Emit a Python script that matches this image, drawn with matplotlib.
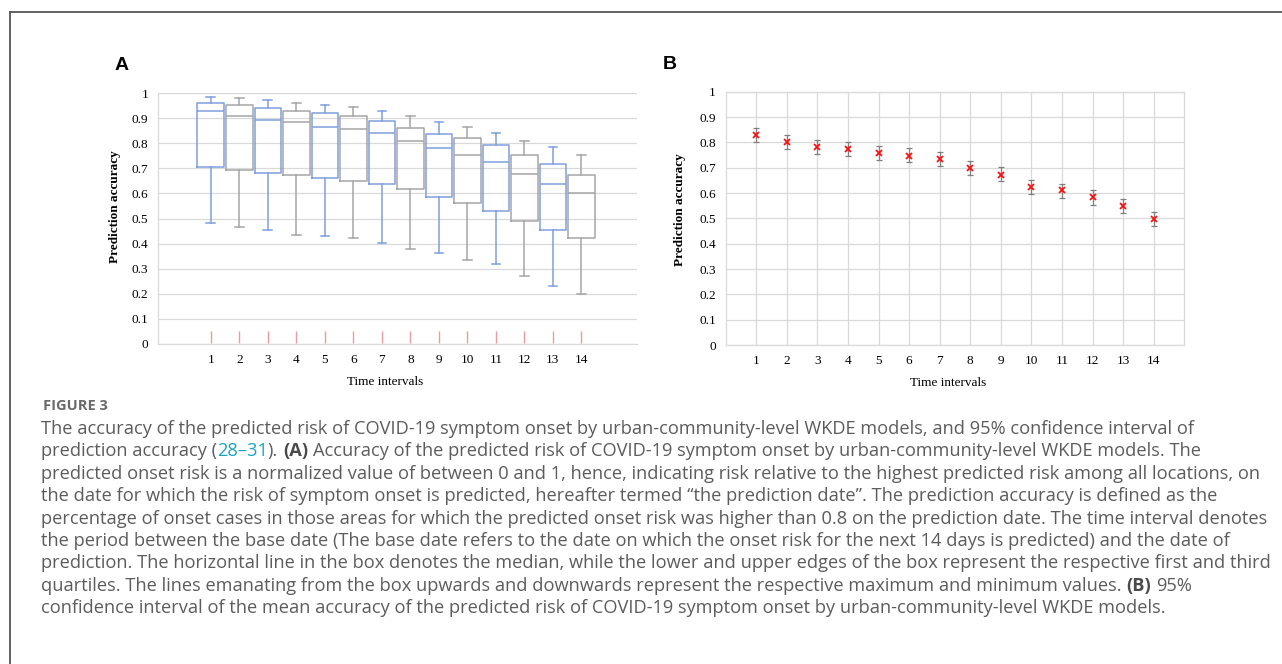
import matplotlib
matplotlib.use("Agg")
import matplotlib.pyplot as plt
from matplotlib.lines import Line2D

# ---- data ----
intervals = list(range(1, 15))
box_max = [0.984, 0.979, 0.971, 0.962, 0.954, 0.943, 0.928, 0.909, 0.886, 0.864, 0.841, 0.808, 0.785, 0.751]
box_q3  = [0.959, 0.954, 0.939, 0.928, 0.919, 0.909, 0.887, 0.861, 0.837, 0.820, 0.793, 0.754, 0.718, 0.674]
box_med = [0.930, 0.909, 0.891, 0.883, 0.864, 0.858, 0.840, 0.809, 0.781, 0.754, 0.727, 0.678, 0.636, 0.603]
box_q1  = [0.706, 0.694, 0.682, 0.673, 0.662, 0.650, 0.636, 0.616, 0.587, 0.563, 0.531, 0.489, 0.453, 0.421]
box_min = [0.481, 0.465, 0.453, 0.436, 0.432, 0.421, 0.403, 0.380, 0.362, 0.334, 0.318, 0.272, 0.232, 0.201]

mean_acc = [0.829, 0.801, 0.781, 0.775, 0.759, 0.748, 0.733, 0.698, 0.673, 0.625, 0.610, 0.583, 0.549, 0.498]
ci_low   = [0.800, 0.774, 0.754, 0.747, 0.730, 0.721, 0.705, 0.670, 0.646, 0.596, 0.582, 0.554, 0.521, 0.471]
ci_high  = [0.858, 0.829, 0.808, 0.803, 0.787, 0.776, 0.761, 0.725, 0.701, 0.653, 0.637, 0.611, 0.576, 0.525]

yticks = [0, 0.1, 0.2, 0.3, 0.4, 0.5, 0.6, 0.7, 0.8, 0.9, 1]
ytick_labels = ["0", "0.1", "0.2", "0.3", "0.4", "0.5", "0.6", "0.7", "0.8", "0.9", "1"]

caption_lines = [
    [("The accuracy of the predicted risk of COVID-19 symptom onset by urban-community-level WKDE models, and 95% confidence interval of", "n")],
    [("prediction accuracy (", "n"), ("28\u201331", "link"), (").", "n"), (" (A)", "b"),
     (" Accuracy of the predicted risk of COVID-19 symptom onset by urban-community-level WKDE models. The", "n")],
    [("predicted onset risk is a normalized value of between 0 and 1, hence, indicating risk relative to the highest predicted risk among all locations, on", "n")],
    [("the date for which the risk of symptom onset is predicted, hereafter termed \u201cthe prediction date\u201d. The prediction accuracy is defined as the", "n")],
    [("percentage of onset cases in those areas for which the predicted onset risk was higher than 0.8 on the prediction date. The time interval denotes", "n")],
    [("the period between the base date (The base date refers to the date on which the onset risk for the next 14 days is predicted) and the date of", "n")],
    [("prediction. The horizontal line in the box denotes the median, while the lower and upper edges of the box represent the respective first and third", "n")],
    [("quartiles. The lines emanating from the box upwards and downwards represent the respective maximum and minimum values.", "n"), (" (B)", "b"), (" 95%", "n")],
    [("confidence interval of the mean accuracy of the predicted risk of COVID-19 symptom onset by urban-community-level WKDE models.", "n")],
]

W, H = 1282, 664
fig = plt.figure(figsize=(W / 100, H / 100), dpi=100)
fig.patch.set_facecolor("white")

serif = "Liberation Serif"
blue = "#7f9fdc"
grey = "#a6a6a6"
gridc = "#d9d9d9"


def px(x0, y0, x1, y1):
    # pixel box (top-left origin) -> figure fraction rect
    return [x0 / W, 1 - y1 / H, (x1 - x0) / W, (y1 - y0) / H]


# ---------------- panel A ----------------
axA = fig.add_axes(px(158, 93, 637, 344))
stats = []
for i in range(len(intervals)):
    stats.append(dict(whislo=box_min[i], q1=box_q1[i], med=box_med[i],
                      q3=box_q3[i], whishi=box_max[i], fliers=[]))
res = axA.bxp(stats, positions=intervals, widths=0.93, capwidths=0.3,
              showfliers=False, patch_artist=False)
for i in range(len(intervals)):
    c = blue if i % 2 == 0 else grey
    res["boxes"][i].set(color=c, linewidth=1.1)
    res["medians"][i].set(color=c, linewidth=1.1)
    for k in (2 * i, 2 * i + 1):
        res["whiskers"][k].set(color=c, linewidth=1.1)
        res["caps"][k].set(color=c, linewidth=1.1)
axA.vlines(intervals, 0.004, 0.052, color="#f19a9a", linewidth=1.0)
axA.set_xlim(-0.85, 15.95)
axA.set_ylim(0, 1)
axA.set_yticks(yticks)
axA.set_yticklabels(ytick_labels)
axA.set_xticks(intervals)
axA.set_xticklabels([str(v) for v in intervals])
axA.yaxis.grid(True, color=gridc, linewidth=0.9)
axA.set_axisbelow(True)
for s in ("top", "right"):
    axA.spines[s].set_visible(False)
for s in ("left", "bottom"):
    axA.spines[s].set_color(gridc)
    axA.spines[s].set_linewidth(0.9)
axA.tick_params(length=0, labelsize=9.5, pad=7)
for lab in axA.get_xticklabels() + axA.get_yticklabels():
    lab.set_fontfamily(serif)
axA.set_xlabel("Time intervals", fontfamily=serif, fontsize=9.5)
axA.xaxis.set_label_coords(0.474, -0.128)
axA.set_ylabel("Prediction accuracy", fontfamily=serif, fontsize=9.5, fontweight="bold")
axA.yaxis.set_label_coords(-0.077, 0.546)

# ---------------- panel B ----------------
axB = fig.add_axes(px(725.7, 91.7, 1184.3, 345))
yerr = [[m - lo for m, lo in zip(mean_acc, ci_low)],
        [hi - m for m, hi in zip(mean_acc, ci_high)]]
axB.errorbar(intervals, mean_acc, yerr=yerr, fmt="none", ecolor="#7f7f7f",
             elinewidth=0.9, capsize=2.5, capthick=0.9, zorder=3)
axB.plot(intervals, mean_acc, linestyle="none", marker="x", color="#ff1010",
         markersize=4.5, markeredgewidth=1.3, zorder=4)
axB.set_xlim(0, 15)
axB.set_ylim(0, 1)
axB.set_yticks(yticks)
axB.set_yticklabels(ytick_labels)
axB.set_xticks(intervals)
axB.set_xticklabels([str(v) for v in intervals])
axB.grid(True, color=gridc, linewidth=0.9)
axB.set_axisbelow(True)
for s in axB.spines.values():
    s.set_color(gridc)
    s.set_linewidth(0.9)
axB.tick_params(length=0, labelsize=9.5, pad=7)
for lab in axB.get_xticklabels() + axB.get_yticklabels():
    lab.set_fontfamily(serif)
axB.set_xlabel("Time intervals", fontfamily=serif, fontsize=9.5)
axB.xaxis.set_label_coords(0.485, -0.126)
axB.set_ylabel("Prediction accuracy", fontfamily=serif, fontsize=9.5, fontweight="bold")
axB.yaxis.set_label_coords(-0.087, 0.534)

# panel letters
fig.text(115 / W, 1 - 70 / H, "A", fontfamily="Liberation Sans", fontweight="bold",
         fontsize=14, va="baseline")
fig.text(663 / W, 1 - 69 / H, "B", fontfamily="Liberation Sans", fontweight="bold",
         fontsize=14, va="baseline")

# frame around the figure block
fig.add_artist(Line2D([10 / W, 10 / W], [0, 1 - 12 / H], color="#555555", linewidth=1.3))
fig.add_artist(Line2D([10 / W, 1], [1 - 12 / H, 1 - 12 / H], color="#555555", linewidth=1.3))

# ---------------- caption ----------------
cap_font = "Open Sans"
styles = {
    "n": dict(color="#5c5c5c", fontweight="normal"),
    "b": dict(color="#4a4a4a", fontweight="bold"),
    "link": dict(color="#17a6c4", fontweight="normal"),
}
renderer = fig.canvas.get_renderer()

# pick the size so the longest line spans the same width as in the figure (41 -> 1262 px)
probe = fig.text(0, 0, caption_lines[2][0][0], fontfamily=cap_font, fontsize=10)
cap_size = 10 * (1262 - 41) / probe.get_window_extent(renderer).width
probe.remove()

fig.text(43 / W, 1 - 410 / H, "FIGURE 3", fontfamily=cap_font, fontsize=cap_size * 0.8,
         fontweight="bold", color="#6a6a6a", va="baseline")

probe1 = fig.text(0, 0, "x x", fontfamily=cap_font, fontsize=cap_size)
probe2 = fig.text(0, 0, "xx", fontfamily=cap_font, fontsize=cap_size)
space_w = probe1.get_window_extent(renderer).width - probe2.get_window_extent(renderer).width
probe1.remove()
probe2.remove()

base0 = 434
step = 22.4
for li, segs in enumerate(caption_lines):
    x = 41.0
    yb = 1 - (base0 + li * step) / H
    for txt, st in segs:
        if txt.startswith(" "):
            x += space_w
            txt = txt[1:]
        t = fig.text(x / W, yb, txt, fontfamily=cap_font, fontsize=cap_size,
                     va="baseline", ha="left", **styles[st])
        x += t.get_window_extent(renderer).width

fig.savefig("out.png", dpi=100)
